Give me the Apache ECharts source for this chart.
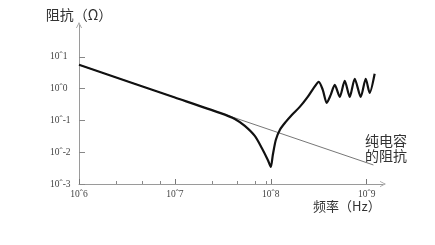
<!DOCTYPE html>
<html><head><meta charset="utf-8">
<script src="https://cdn.jsdelivr.net/npm/echarts@6/dist/echarts.min.js"></script>
<style>html,body{margin:0;padding:0;background:#fff}#c{width:435px;height:245px}</style>
</head><body><div id="c"></div>
<script>
// log10(frequency / Hz) and log10(impedance / Ohm)
const measuredFreqLog = [6.0, 7.0, 7.469, 7.625, 7.729, 7.833, 7.906, 7.969, 8.0, 8.021, 8.052, 8.094, 8.156, 8.219, 8.302, 8.385, 8.448, 8.5, 8.542, 8.583, 8.625, 8.667, 8.719, 8.771, 8.823, 8.875, 8.938, 8.99, 9.031, 9.083];
const measuredZLog    = [0.748, -0.28, -0.764, -0.953, -1.173, -1.488, -1.866, -2.244, -2.465, -2.087, -1.614, -1.299, -1.047, -0.827, -0.575, -0.26, 0.024, 0.213, -0.039, -0.449, -0.197, 0.118, -0.26, 0.244, -0.26, 0.307, -0.26, 0.307, -0.134, 0.465];
const capacitorFreqLog = [6.0, 9.07];
const capacitorZLog    = [0.748, -2.402];
const xTickValues = [6, 7, 8, 9];
const xTickLabels = ['10ˆ6', '10ˆ7', '10ˆ8', '10ˆ9'];
const xMinorTicks = [6.385, 6.656, 6.844, 7.385, 7.646, 7.84, 7.95];
const yTickValues = [-3, -2, -1, 0, 1];
const yTickLabels = ['10ˆ-3', '10ˆ-2', '10ˆ-1', '10ˆ0', '10ˆ1'];
const yTitle = '阻抗（Ω）';
const xTitle = '频率（Hz）';
const noteText = '纯电容\n的阻抗';

const chart = echarts.init(document.getElementById('c'), null, {renderer: 'canvas'});
const arrowPath = 'path://M0,10 L5,0 L10,10 L8.6,10 L5,2.8 L1.4,10 Z';
const axisColor = '#9a9a9a';
const labelFont = {fontFamily: '"Liberation Serif","DejaVu Serif",serif', fontSize: 9.5, color: '#444'};
const cjkFont = '"Noto Sans CJK SC","Noto Sans CJK JP",sans-serif';
chart.setOption({
  animation: false,
  backgroundColor: '#fff',
  grid: {left: 79, right: 52, top: 25, bottom: 61, containLabel: false},
  xAxis: [{
    type: 'value', min: 6, max: 9.17,
    axisLine: {show: true, onZero: false, lineStyle: {color: axisColor, width: 1}, symbol: ['none', arrowPath], symbolSize: [7, 6]},
    axisTick: {show: true, inside: true, length: 5, customValues: xTickValues, lineStyle: {color: '#777'}},
    axisLabel: Object.assign({show: true, margin: 5, customValues: xTickValues,
      formatter: v => xTickLabels[xTickValues.indexOf(Math.round(v))] || ''}, labelFont),
    splitLine: {show: false}
  }, {
    type: 'value', min: 6, max: 9.17, position: 'bottom',
    axisLine: {show: false, onZero: false},
    axisTick: {show: true, inside: true, length: 3, customValues: xMinorTicks, lineStyle: {color: '#888'}},
    axisLabel: {show: false},
    splitLine: {show: false}
  }],
  yAxis: [{
    type: 'value', min: -3, max: 2,
    axisLine: {show: true, onZero: false, lineStyle: {color: axisColor, width: 1}, symbol: ['none', arrowPath], symbolSize: [7, 6]},
    axisTick: {show: true, inside: true, length: 6, customValues: yTickValues, lineStyle: {color: '#888'}},
    axisLabel: Object.assign({show: true, align: 'left', margin: 29, customValues: yTickValues,
      formatter: v => yTickLabels[yTickValues.indexOf(Math.round(v))] || ''}, labelFont),
    splitLine: {show: false},
    name: yTitle, nameLocation: 'end', nameGap: 3,
    nameTextStyle: {fontFamily: cjkFont, fontSize: 14, color: '#333', align: 'center'}
  }],
  series: [{
    type: 'line', name: 'capacitor', xAxisIndex: 0,
    data: capacitorFreqLog.map((f, i) => [f, capacitorZLog[i]]),
    showSymbol: false, lineStyle: {color: '#777', width: 1}, z: 2
  }, {
    type: 'line', name: 'measured', xAxisIndex: 0,
    data: measuredFreqLog.map((f, i) => [f, measuredZLog[i]]),
    showSymbol: false, smooth: 0.25, lineStyle: {color: '#111', width: 2.2}, z: 3
  }],
  graphic: [{
    type: 'text', left: 313, top: 200,
    style: {text: xTitle, font: '13px ' + cjkFont, fill: '#333'}
  }, {
    type: 'text', left: 365, top: 133,
    style: {text: noteText, font: '14px ' + cjkFont, fill: '#333', lineHeight: 15}
  }]
});
</script></body></html>
